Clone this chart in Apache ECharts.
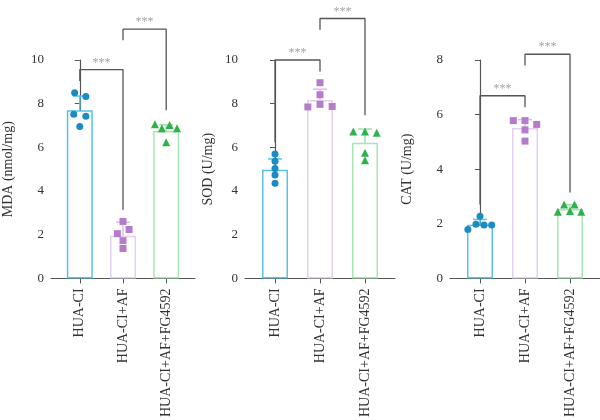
<!DOCTYPE html>
<html lang="en">
<head>
  <meta charset="UTF-8">
  <title>MDA / SOD / CAT</title>
  <style>
    * { margin: 0; padding: 0; }
    body { background: #fff; }
  </style>
  <script src="https://cdn.jsdelivr.net/npm/echarts@6/dist/echarts.min.js"></script>
</head>
<body>
  <div id="chart" style="width: 600px; height: 420px;"></div>
  <script>
    const chart = echarts.init(document.getElementById('chart'))

    // groups on the x axis
    const groups = ['HUA-CI', 'HUA-CI+AF', 'HUA-CI+AF+FG4592']

    // MDA (nmol/mg)
    const mdaMean = [7.7, 1.95, 6.75]
    const mdaSd = [0.65, 0.62, 0.28]
    const mdaPoints = [
      [8.5, 8.33, 7.52, 7.42, 6.96],
      [2.61, 2.24, 2.05, 1.73, 1.37],
      [7.06, 6.87, 7.02, 6.87, 6.24]
    ]
    const mdaJitter = [
      [-0.12, 0.14, -0.14, 0.14, 0],
      [0, 0.14, -0.13, 0, 0],
      [-0.26, -0.1, 0.08, 0.25, 0]
    ]
    // [from, to, top, left leg end, right leg end]
    const mdaBrackets = [[0, 1, 9.56, 9.04, 3.14], [1, 2, 11.41, 10.9, 7.7]]

    // SOD (U/mg)
    const sodMean = [4.97, 8.17, 6.21]
    const sodSd = [0.5, 0.49, 0.63]
    const sodPoints = [
      [5.7, 5.37, 5.03, 4.74, 4.36],
      [8.96, 8.41, 7.85, 7.97, 7.87],
      [6.73, 6.73, 6.67, 5.75, 5.41]
    ]
    const sodJitter = [
      [0, 0, 0, 0, 0],
      [0, 0, -0.27, 0, 0.27],
      [-0.26, 0, 0.26, 0, 0]
    ]
    const sodBrackets = [[0, 1, 10.0, 6.23, 9.47], [1, 2, 11.9, 11.38, 7.47]]

    // CAT (U/mg)
    const catMean = [1.97, 5.51, 2.54]
    const catSd = [0.19, 0.31, 0.16]
    const catPoints = [
      [2.28, 1.79, 1.98, 1.96, 1.96],
      [5.78, 5.78, 5.64, 5.44, 5.03],
      [2.71, 2.71, 2.44, 2.47, 2.44]
    ]
    const catJitter = [
      [0, -0.27, -0.09, 0.09, 0.26],
      [-0.26, 0, 0.26, 0, 0],
      [-0.13, 0.1, -0.27, 0, 0.25]
    ]
    const catBrackets = [[0, 1, 6.69, 2.71, 6.27], [1, 2, 8.21, 7.8, 3.15]]

    const panels = [
      { title: 'MDA (nmol/mg)', max: 10, mean: mdaMean, sd: mdaSd, pts: mdaPoints, jit: mdaJitter, br: mdaBrackets },
      { title: 'SOD (U/mg)', max: 10, mean: sodMean, sd: sodSd, pts: sodPoints, jit: sodJitter, br: sodBrackets },
      { title: 'CAT (U/mg)', max: 8, mean: catMean, sd: catSd, pts: catPoints, jit: catJitter, br: catBrackets }
    ]

    // layout / styles
    const lefts = [45, 245, 450]
    const nameGaps = [36, 30, 36]
    const pointColors = ['#1a8cc2', '#b47ccb', '#2eb24c']
    const barColors = ['#58c2e6', '#e4d0ef', '#a6e6b2']
    const errColors = ['#58c2e6', '#d8bde6', '#9fe0ac']
    const symbols = ['circle', 'rect', 'triangle']
    const serif = 'Liberation Serif'
    const axisColor = '#555'

    const grid = [], xAxis = [], yAxis = [], series = []

    panels.forEach((p, k) => {
      grid.push({ left: lefts[k], top: 60, width: 150, height: 229 })
      xAxis.push({
        type: 'value', gridIndex: k, min: -0.667, max: 2.667,
        splitLine: { show: false },
        axisLine: { lineStyle: { color: axisColor, width: 1.2 } },
        axisTick: { show: true, customValues: [0, 1, 2], length: 5, lineStyle: { color: axisColor } },
        axisLabel: {
          customValues: [0, 1, 2], rotate: 90, margin: 10,
          fontFamily: serif, fontSize: 14, color: '#333',
          formatter: v => groups[Math.round(v)]
        }
      })
      yAxis.push({
        type: 'value', gridIndex: k, min: 0, max: p.max, interval: 2,
        name: p.title, nameLocation: 'middle', nameGap: nameGaps[k],
        nameTextStyle: { fontFamily: serif, fontSize: 14, color: '#333' },
        splitLine: { show: false },
        axisLine: { show: true, lineStyle: { color: axisColor, width: 1.2 } },
        axisTick: { show: true, length: 5, lineStyle: { color: axisColor } },
        axisLabel: { fontFamily: serif, fontSize: 13, color: '#333', margin: 7 }
      })

      // bars
      series.push({
        type: 'bar', xAxisIndex: k, yAxisIndex: k, barWidth: 26, silent: true,
        data: p.mean.map((m, i) => ({
          value: [i, m],
          itemStyle: { color: '#fff', borderColor: barColors[i], borderWidth: 1.5 }
        }))
      })

      // error bars
      series.push({
        type: 'custom', xAxisIndex: k, yAxisIndex: k, silent: true,
        data: p.mean.map((m, i) => [i, m, p.sd[i]]),
        renderItem: (params, api) => {
          const i = api.value(0), m = api.value(1), s = api.value(2)
          const hi = api.coord([i, m + s]), lo = api.coord([i, m - s])
          const style = { stroke: errColors[params.dataIndex], lineWidth: 1.5 }
          return {
            type: 'group',
            children: [
              { type: 'line', shape: { x1: hi[0], y1: hi[1], x2: lo[0], y2: lo[1] }, style },
              { type: 'line', shape: { x1: hi[0] - 7, y1: hi[1], x2: hi[0] + 7, y2: hi[1] }, style },
              { type: 'line', shape: { x1: lo[0] - 7, y1: lo[1], x2: lo[0] + 7, y2: lo[1] }, style }
            ]
          }
        }
      })

      // individual points
      p.pts.forEach((vals, i) => {
        series.push({
          type: 'scatter', xAxisIndex: k, yAxisIndex: k, silent: true,
          symbol: symbols[i], symbolSize: i === 2 ? 8 : 7,
          itemStyle: { color: pointColors[i], opacity: 1 },
          data: vals.map((v, j) => [i + p.jit[i][j], v]),
          z: 5
        })
      })

      // significance brackets
      p.br.forEach(b => {
        series.push({
          type: 'line', xAxisIndex: k, yAxisIndex: k, silent: true, clip: false,
          showSymbol: false, symbol: 'none', z: 1,
          lineStyle: { color: '#555', width: 1.3 },
          data: [[b[0], b[3]], [b[0], b[2]], [b[1], b[2]], [b[1], b[4]]]
        })
        series.push({
          type: 'scatter', xAxisIndex: k, yAxisIndex: k, silent: true, clip: false,
          symbolSize: 0,
          data: [[(b[0] + b[1]) / 2, b[2]]],
          label: {
            show: true, position: 'top', distance: 1, formatter: '***',
            fontSize: 12, color: '#8a8a8a', fontFamily: serif
          }
        })
      })
    })

    chart.setOption({
      animation: false,
      backgroundColor: '#fff',
      grid, xAxis, yAxis, series
    })
  </script>
</body>
</html>
